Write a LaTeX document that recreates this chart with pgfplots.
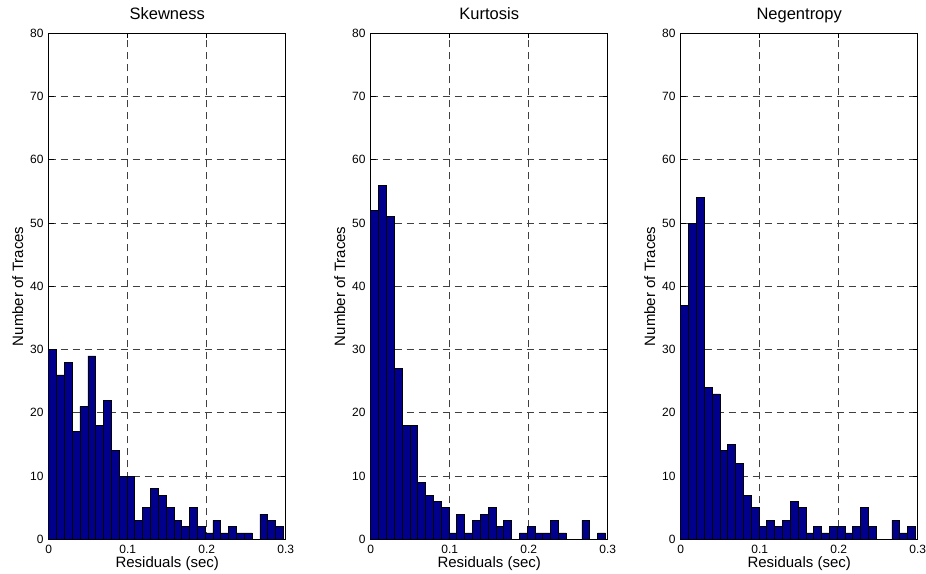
\documentclass[border=0pt]{standalone}
\usepackage{fontspec}
\setmainfont{Liberation Sans}
\usepackage{pgfplots}
\usepackage{pgfplotstable}
\pgfplotsset{compat=1.18}

\definecolor{barblue}{RGB}{0,0,140}

% bin left edges, counts per method (last row closes the last interval)
\pgfplotstableread{
x      s  k  n
0.0000 30 52 37
0.0099 26 56 50
0.0198 28 51 54
0.0297 17 27 24
0.0396 21 18 23
0.0495 29 18 14
0.0594 18 9  15
0.0693 22 7  12
0.0792 14 6  7
0.0891 10 5  5
0.0990 10 1  2
0.1089 3  4  3
0.1188 5  1  2
0.1287 8  3  3
0.1386 7  4  6
0.1485 5  5  5
0.1584 3  2  1
0.1683 2  3  2
0.1782 5  0  1
0.1881 2  1  2
0.1980 1  2  2
0.2079 3  1  1
0.2178 1  1  2
0.2277 2  3  5
0.2376 1  1  2
0.2475 1  0  0
0.2574 0  0  0
0.2673 4  3  3
0.2772 3  0  1
0.2871 2  1  2
0.2970 0  0  0
}\histdata

\pgfplotsset{
  hist/.style={
    scale only axis,
    anchor=south west,
    width=237pt, height=506pt,
    xmin=0, xmax=0.3, ymin=0, ymax=80,
    xtick={0,0.1,0.2,0.3},
    ytick={0,10,...,80},
    xmajorgrids, ymajorgrids,
    grid style={black!75, line width=0.7pt, dash pattern=on 7pt off 5pt},
    axis line style={line width=0.8pt},
    tick style={black, line width=0.8pt},
    major tick length=5pt,
    tick align=inside,
    /pgf/number format/assume math mode=true,
    tick label style={font=\fontsize{12}{12}\selectfont},
    xticklabel style={anchor=north, inner sep=0pt, yshift=-5.5pt},
    yticklabel style={anchor=east, inner sep=0pt, xshift=-5pt},
    label style={font=\fontsize{15}{15}\selectfont},
    xlabel style={at={(axis description cs:0.5,0)}, anchor=base, yshift=-28.5pt},
    ylabel style={at={(axis description cs:-0.131,0.5)}, anchor=center, rotate=0},
    title style={font=\fontsize{16.5}{16.5}\selectfont, at={(axis description cs:0.5,1)}, anchor=base, yshift=8pt},
    xlabel={Residuals (sec)},
    ylabel={Number of Traces},
  },
}

\begin{document}
\begin{tikzpicture}
\useasboundingbox (0,0) rectangle (926pt,573pt);

\begin{axis}[hist, at={(48.7pt,33.7pt)}, title={Skewness}]
\addplot[ybar interval, fill=barblue, draw=black, line width=0.6pt] table[x=x, y=s] {\histdata};
\end{axis}

\begin{axis}[hist, at={(370.7pt,33.7pt)}, title={Kurtosis}]
\addplot[ybar interval, fill=barblue, draw=black, line width=0.6pt] table[x=x, y=k] {\histdata};
\end{axis}

\begin{axis}[hist, at={(680.7pt,33.7pt)}, title={Negentropy}]
\addplot[ybar interval, fill=barblue, draw=black, line width=0.6pt] table[x=x, y=n] {\histdata};
\end{axis}

\end{tikzpicture}
\end{document}
